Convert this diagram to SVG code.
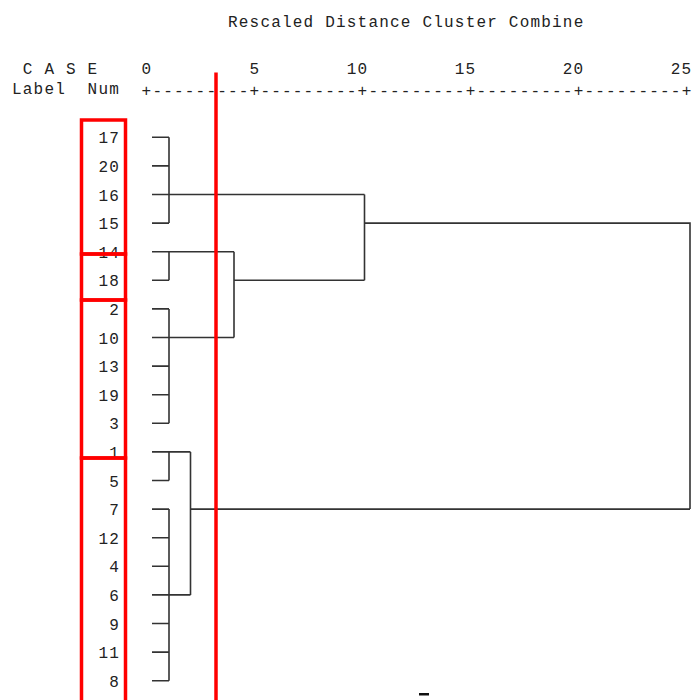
<svg xmlns="http://www.w3.org/2000/svg" width="696" height="700" viewBox="0 0 696 700">
<style>
text{font-family:"Liberation Mono","DejaVu Sans Mono",monospace;font-size:16px;letter-spacing:1.2px;fill:#222}
.ln{stroke:#333;stroke-width:1.6;fill:none}
.red{stroke:#f00;stroke-width:3.5;fill:none}
</style>
<rect width="696" height="700" fill="#fff"/>
<g id="header">
<text x="228" y="27">Rescaled Distance Cluster Combine</text>
<text x="22.8" y="74">C A S E</text>
<text x="141.6" y="74">0</text>
<text x="249.6" y="74">5</text>
<text x="346.8" y="74">10</text>
<text x="454.8" y="74">15</text>
<text x="562.8" y="74">20</text>
<text x="670.8" y="74">25</text>
<text x="12" y="94">Label</text>
<text x="87.6" y="94">Num</text>
<text x="141.6" y="96">+---------+---------+---------+---------+---------+</text>
</g>
<g id="leaves">
<g id="n17"><text x="98.4" y="143.3">17</text></g>
<g id="n20"><text x="98.4" y="171.9">20</text></g>
<g id="n16"><text x="98.4" y="200.5">16</text></g>
<g id="n15"><text x="98.4" y="229.1">15</text></g>
<g id="n14"><text x="98.4" y="257.7">14</text></g>
<g id="n18"><text x="98.4" y="286.3">18</text></g>
<g id="n2"><text x="109.2" y="314.9">2</text></g>
<g id="n10"><text x="98.4" y="343.5">10</text></g>
<g id="n13"><text x="98.4" y="372.1">13</text></g>
<g id="n19"><text x="98.4" y="400.7">19</text></g>
<g id="n3"><text x="109.2" y="429.3">3</text></g>
<g id="n1"><text x="109.2" y="457.9">1</text></g>
<g id="n5"><text x="109.2" y="486.5">5</text></g>
<g id="n7"><text x="109.2" y="515.1">7</text></g>
<g id="n12"><text x="98.4" y="543.7">12</text></g>
<g id="n4"><text x="109.2" y="572.3">4</text></g>
<g id="n6"><text x="109.2" y="600.9">6</text></g>
<g id="n9"><text x="109.2" y="629.5">9</text></g>
<g id="n11"><text x="98.4" y="658.1">11</text></g>
<g id="n8"><text x="109.2" y="686.7">8</text></g>
</g>
<g id="connectors" class="ln">
<path d="M152 137.3H169M152 165.9H169M152 194.5H169M152 223.1H169M152 251.7H169M152 280.3H169M152 308.9H169M152 337.5H169M152 366.1H169M152 394.7H169M152 423.3H169M152 451.9H169M152 480.5H169M152 509.1H169M152 537.7H169M152 566.3H169M152 594.9H169M152 623.5H169M152 652.1H169M152 680.7H169"/>
<path d="M169 137.3V223.1M169 194.5H364.5"/>
<path d="M169 251.7V280.3M169 251.7H234"/>
<path d="M169 308.9V423.3M169 337.5H234"/>
<path d="M234 251.7V337.5M234 280.3H364.5"/>
<path d="M364.5 194.5V280.3M364.5 223.1H690V509.1"/>
<path d="M169 451.9V480.5M169 451.9H190.5"/>
<path d="M169 509.1V680.7M169 594.9H190.5"/>
<path d="M190.5 451.9V594.9M190.5 509.1H690"/>
</g>
<g id="highlights" class="red">
<rect x="81.5" y="120" width="44" height="134"/>
<rect x="81.5" y="254" width="44" height="46"/>
<rect x="81.5" y="300" width="44" height="158"/>
<rect x="81.5" y="458" width="44" height="260"/>
<path d="M216 72.5V700"/>
</g>
<rect id="mark" x="419" y="693" width="10" height="2.5" fill="#111"/>
</svg>
